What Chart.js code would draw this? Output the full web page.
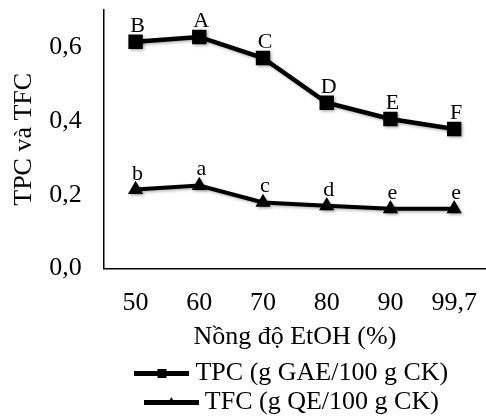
<!DOCTYPE html>
<html>
<head>
<meta charset="utf-8">
<script src="https://cdn.jsdelivr.net/npm/chart.js@4"></script>
<style>
  body { margin: 0; background: #fff; }
  #wrap { width: 486px; height: 419px; }
</style>
</head>
<body>
<div id="wrap"><canvas id="lineChart" width="486" height="419"></canvas></div>
<script>
const categories = ['50', '60', '70', '80', '90', '99,7'];
const tpcValues = [0.614, 0.627, 0.570, 0.449, 0.405, 0.378];
const tfcValues = [0.214, 0.225, 0.179, 0.170, 0.162, 0.162];
const tpcLetters = ['B', 'A', 'C', 'D', 'E', 'F'];
const tfcLetters = ['b', 'a', 'c', 'd', 'e', 'e'];
const yTicks = [0, 0.2, 0.4, 0.6];

const serif = '"Liberation Serif", "Times New Roman", serif';

// legend markers: a short thick line with the point shape in the middle
function legendIcon(shape) {
  const c = document.createElement('canvas');
  c.width = 55; c.height = 14;
  const g = c.getContext('2d');
  g.fillStyle = '#000';
  g.fillRect(0, 5, 55, 5);
  if (shape === 'rect') {
    g.fillRect(23, 3, 9, 9);
  } else {
    g.beginPath();
    g.moveTo(27.5, 2); g.lineTo(32, 10); g.lineTo(23, 10); g.closePath(); g.fill();
  }
  return c;
}

const letterPlugin = {
  id: 'letters',
  beforeDatasetsDraw(chart) {
    const ctx = chart.ctx;
    ctx.save();
    ctx.shadowColor = 'rgba(0,0,0,0.3)';
    ctx.shadowBlur = 3;
    ctx.shadowOffsetX = 1.5;
    ctx.shadowOffsetY = 1.5;
  },
  afterDatasetsDraw(chart) {
    const ctx = chart.ctx;
    ctx.restore();
    ctx.save();
    ctx.fillStyle = '#000';
    ctx.font = '22px ' + serif;
    ctx.textAlign = 'center';
    ctx.textBaseline = 'alphabetic';
    [tpcLetters, tfcLetters].forEach((letters, di) => {
      chart.getDatasetMeta(di).data.forEach((pt, i) => {
        ctx.fillText(letters[i], pt.x + 2, pt.y - 10);
      });
    });
    ctx.restore();
  }
};

new Chart(document.getElementById('lineChart').getContext('2d'), {
  type: 'line',
  data: {
    labels: categories,
    datasets: [{
      label: 'TPC (g GAE/100 g CK)',
      data: tpcValues,
      borderColor: '#000',
      backgroundColor: '#000',
      borderWidth: 4.5,
      pointStyle: 'rect',
      pointRadius: 7,
      tension: 0
    }, {
      label: 'TFC (g QE/100 g CK)',
      data: tfcValues,
      borderColor: '#000',
      backgroundColor: '#000',
      borderWidth: 4,
      pointStyle: 'triangle',
      pointRadius: 4.8,
      tension: 0
    }]
  },
  options: {
    responsive: false,
    animation: false,
    layout: { autoPadding: false, padding: { top: 10, right: -4, left: 9, bottom: -6 } },
    scales: {
      x: {
        offset: true,
        grid: { display: false, drawTicks: false, offset: true },
        border: { color: '#000', width: 1.5 },
        afterFit(scale) {
          scale.paddingLeft = 0;
          scale.paddingRight = 0;
        },
        ticks: { color: '#000', font: { family: serif, size: 26 }, padding: 19 },
        title: {
          display: true,
          text: 'Nồng độ EtOH (%)',
          color: '#000',
          font: { family: serif, size: 26 },
          padding: { top: -16, bottom: 4 }
        }
      },
      y: {
        min: 0,
        max: 0.7,
        grid: { display: false, drawTicks: false },
        border: { color: '#000', width: 1.5 },
        afterBuildTicks(scale) {
          scale.ticks = yTicks.map(v => ({ value: v }));
        },
        afterFit(scale) {
          scale.paddingTop = 0;
          scale.paddingBottom = 0;
        },
        ticks: {
          color: '#000',
          font: { family: serif, size: 26 },
          padding: 22,
          callback: v => v.toFixed(1).replace('.', ',')
        },
        title: {
          display: true,
          text: 'TPC và TFC',
          color: '#000',
          font: { family: serif, size: 26 },
          padding: { top: 0, bottom: -13 }
        }
      }
    },
    plugins: {
      legend: {
        position: 'bottom',
        fullSize: false,
        labels: {
          color: '#000',
          font: { family: serif, size: 26 },
          usePointStyle: true,
          pointStyleWidth: 41,
          padding: 3,
          generateLabels(chart) {
            return chart.data.datasets.map((ds, i) => ({
              text: ds.label,
              datasetIndex: i,
              pointStyle: legendIcon(ds.pointStyle),
              fontColor: '#000',
              lineWidth: 0,
              hidden: false
            }));
          }
        }
      },
      tooltip: { enabled: false }
    }
  },
  plugins: [letterPlugin]
});
</script>
</body>
</html>
